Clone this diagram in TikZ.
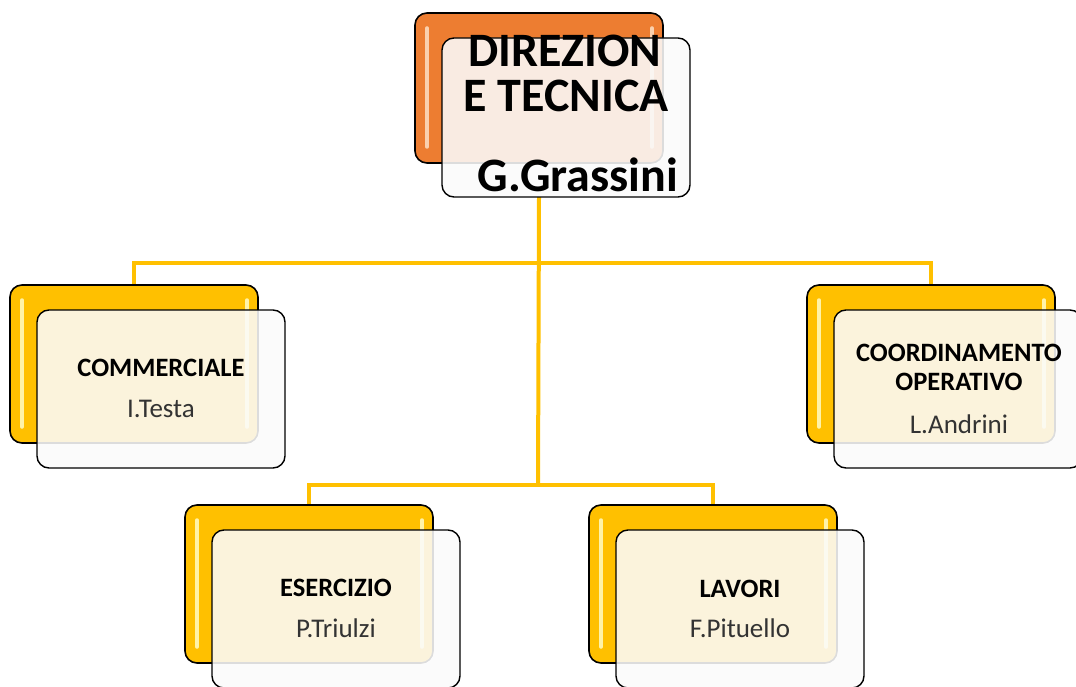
\documentclass[tikz,border=0pt]{standalone}
\usepackage{fontspec}
\setmainfont{Carlito}
\pgfdeclarelayer{bg}
\pgfsetlayers{bg,main}
\definecolor{conncol}{HTML}{FFC000}
\definecolor{gold}{HTML}{FFC000}
\definecolor{goldgloss}{HTML}{FFF3A8}
\definecolor{orangebox}{HTML}{ED7D31}
\definecolor{orangegloss}{HTML}{FAD0AE}
\definecolor{namegray}{HTML}{333333}
\newcommand\orgunit[7]{% name, x, y, fill, gloss, back height, front height
  \node[backbox=#4, minimum height=#6pt] (#1b) at (#2,#3) {};
  \draw[gloss=#5] ([xshift=12pt,yshift=-15pt]#1b.north west) -- ([xshift=12pt,yshift=16pt]#1b.south west);
  \draw[gloss=#5] ([xshift=-11pt,yshift=-15pt]#1b.north east) -- ([xshift=-11pt,yshift=16pt]#1b.south east);
  \node[frontbox, minimum height=#7pt] (#1f) at (#2+27,#3+25) {};
}
\begin{document}
\begin{tikzpicture}[x=1pt,y=-1pt,
  backbox/.style={draw=black, line width=1.6pt, rounded corners=12pt, fill=#1,
    minimum width=248pt, anchor=north west, inner sep=0pt, outer sep=0pt},
  frontbox/.style={draw=black, line width=1.4pt, rounded corners=12pt, fill=gray!3,
    fill opacity=0.88, minimum width=248pt, anchor=north west, inner sep=0pt, outer sep=0pt},
  gloss/.style={line width=3.5pt, line cap=round, draw=#1},
  conn/.style={draw=conncol, line width=4pt},
  bigtitle/.style={font=\bfseries\fontsize{48}{52}\selectfont, anchor=base, inner sep=0pt},
  title/.style={font=\bfseries\fontsize{26.5}{30}\selectfont, anchor=base, inner sep=0pt},
  person/.style={font=\fontsize{27}{30}\selectfont, text=namegray, anchor=base, inner sep=0pt}]
\clip (0,0) rectangle (1076,687);
\useasboundingbox (0,0) rectangle (1076,687);

% units
\orgunit{dir}{415}{13}{orangebox}{orangegloss}{150}{159}
\orgunit{com}{10}{285}{gold}{goldgloss}{158}{158}
\orgunit{coo}{807}{285}{gold}{goldgloss}{158}{158}
\orgunit{ese}{185}{505}{gold}{goldgloss}{158}{158}
\orgunit{lav}{589}{505}{gold}{goldgloss}{158}{158}

% connectors
\coordinate (j1) at (538,263);
\coordinate (j2) at (538,485);
\begin{pgfonlayer}{bg}
  \draw[conn] (dirb.south |- dirf.south) -- (j2);
  \draw[conn] (comb.north) |- (j1) -| (coob.north);
  \draw[conn] (eseb.north) |- (j2) -| (lavb.north);
\end{pgfonlayer}

% texts
\node[bigtitle] (t1) at (565,67) {DIREZION};
\node[bigtitle] (t2) at (566,112) {E TECNICA};
\node[bigtitle] (t3) at (578,192) {G.Grassini};

\node[title] (c1) at (161,376) {COMMERCIALE};
\node[person] (c2) at (161,417) {I.Testa};

\node[title] (o1) at (959,361) {COORDINAMENTO};
\node[title] (o2) at (959,390) {OPERATIVO};
\node[person] (o3) at (959,433) {L.Andrini};

\node[title] (e1) at (336,596) {ESERCIZIO};
\node[person] (e2) at (336,637) {P.Triulzi};

\node[title] (l1) at (740,597) {LAVORI};
\node[person] (l2) at (740,637) {F.Pituello};
\end{tikzpicture}
\end{document}
